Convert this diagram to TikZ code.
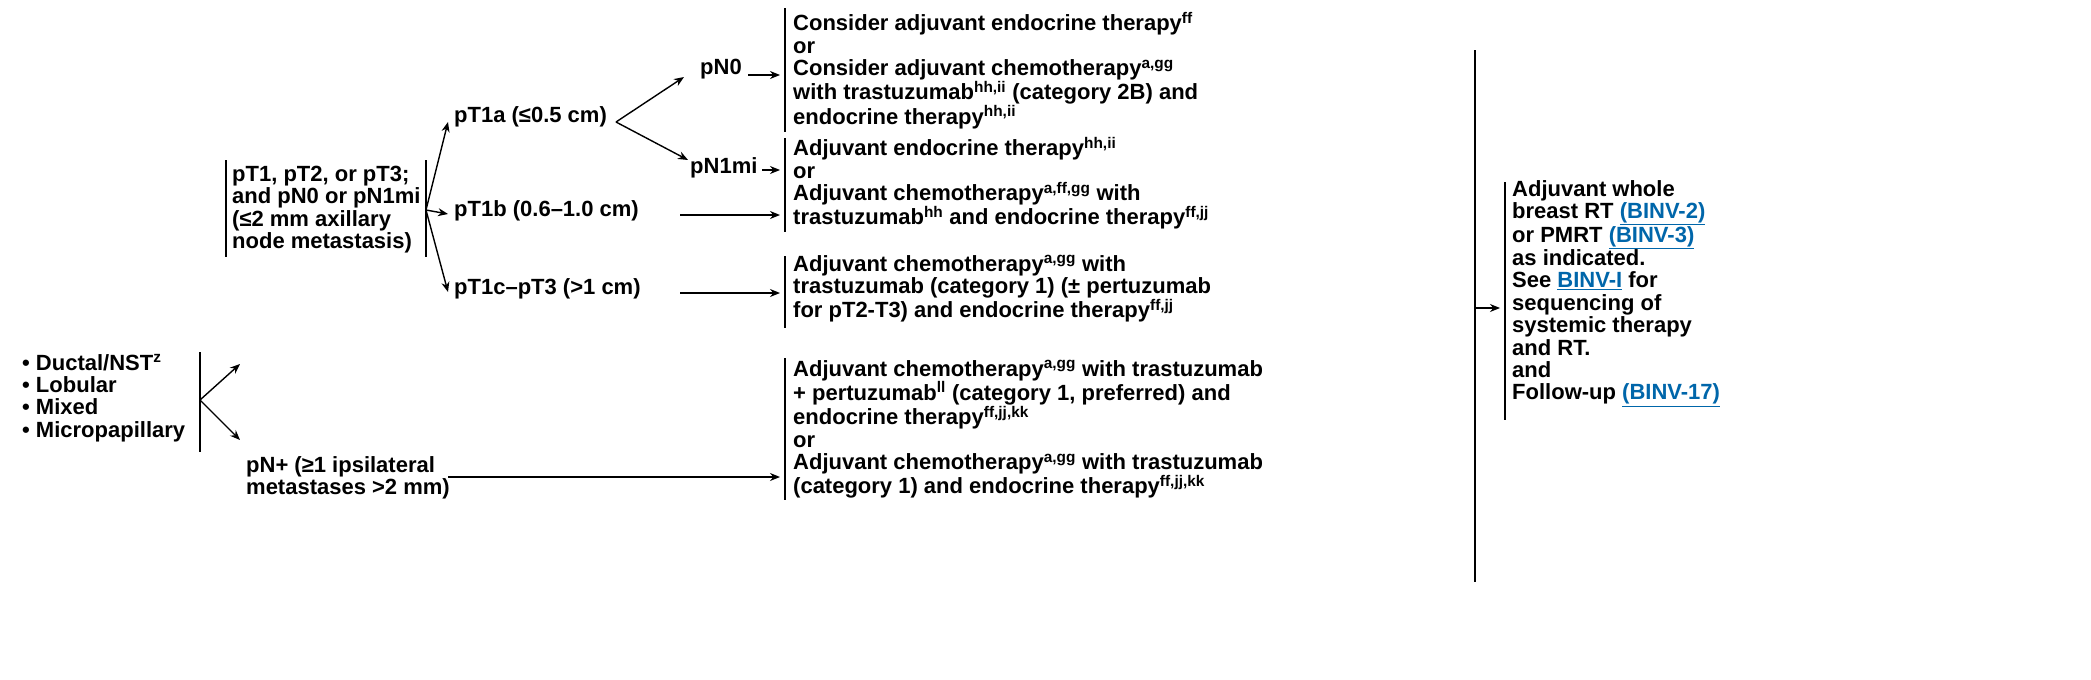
\documentclass[tikz,border=0pt]{standalone}
\usepackage{fontspec}
\setmainfont{Liberation Sans}
\usetikzlibrary{arrows.meta}
\definecolor{lnk}{RGB}{0,102,170}
\newcommand{\sps}[1]{\textsuperscript{#1}}
\newcommand{\lk}[1]{\textcolor{lnk}{\underline{#1}}}
\begin{document}
\begin{tikzpicture}[x=1pt,y=-1pt,
 txt/.style={anchor=north west,inner sep=0pt,align=left,font=\fontsize{22}{22.4}\selectfont\bfseries},
 bar/.style={line width=1.4pt},
 arr/.style={line width=1.4pt,-{Stealth[length=10pt,width=8pt]}}]
\useasboundingbox (0,0) rectangle (2091,680);
% left list
\node[txt] (types) at (22,354) {• Ductal/NST\sps{z}\\• Lobular\\• Mixed\\• Micropapillary};
\draw[bar] (200,352) coordinate (tb) -- (200,452);
\coordinate (split1) at (200,400);
\node[txt] (mid) at (232,166) {pT1, pT2, or pT3;\\and pN0 or pN1mi\\(≤2 mm axillary\\node metastasis)};
\draw[bar] (226,160) -- (226,257);
\draw[bar] (426,160) -- (426,257);
\coordinate (split2) at (426,210);
\node[txt] (pnp) at (246,456) {pN+ (≥1 ipsilateral\\metastases >2 mm)};
\coordinate (a1) at (240,364); \coordinate (a2) at (240,440);
\draw[arr] (split1) -- (a1);
\draw[arr] (split1) -- (a2);
% pT nodes
\node[txt] (t1a) at (454,106) {pT1a (≤0.5 cm)};
\node[txt] (t1b) at (454,200) {pT1b (0.6–1.0 cm)};
\node[txt] (t1c) at (454,278) {pT1c–pT3 (>1 cm)};
\draw[arr] (split2) -- (448,122);
\draw[arr] (split2) -- (448,214);
\draw[arr] (split2) -- (448,292);
\coordinate (split3) at (616,122);
\draw[arr] (split3) -- (684,77);
\draw[arr] (split3) -- (688,160);
\node[txt] (pn0) at (700,59) {pN0};
\node[txt] (pn1) at (690,157) {pN1mi};
% text blocks
\node[txt] (b1) at (793,12) {Consider adjuvant endocrine therapy\sps{ff}\\or\\Consider adjuvant chemotherapy\sps{a,gg}\\with trastuzumab\sps{hh,ii} (category 2B) and\\endocrine therapy\sps{hh,ii}};
\draw[bar] (785,8) -- (785,132);
\node[txt] (b2) at (793,137) {Adjuvant endocrine therapy\sps{hh,ii}\\or\\Adjuvant chemotherapy\sps{a,ff,gg} with\\trastuzumab\sps{hh} and endocrine therapy\sps{ff,jj}};
\draw[bar] (785,138) -- (785,232);
\node[txt] (b3) at (793,255) {Adjuvant chemotherapy\sps{a,gg} with\\trastuzumab (category 1) (± pertuzumab\\for pT2-T3) and endocrine therapy\sps{ff,jj}};
\draw[bar] (785,256) -- (785,328);
\node[txt] (b4) at (793,360) {Adjuvant chemotherapy\sps{a,gg} with trastuzumab\\+ pertuzumab\sps{ll} (category 1, preferred) and\\endocrine therapy\sps{ff,jj,kk}\\or\\Adjuvant chemotherapy\sps{a,gg} with trastuzumab\\(category 1) and endocrine therapy\sps{ff,jj,kk}};
\draw[bar] (785,358) -- (785,500);
\draw[arr] (748,75) -- (780,75);
\draw[arr] (762,170) -- (780,170);
\draw[arr] (680,215) -- (780,215);
\draw[arr] (680,293) -- (780,293);
\draw[arr] (448,477) -- (780,477);
% right
\draw[bar] (1475,50) -- (1475,582);
\draw[arr] (1475,308) -- (1500,308);
\draw[bar] (1505,182) -- (1505,420);
\node[txt] (fin) at (1512,180) {Adjuvant whole\\breast RT \lk{(BINV-2)}\\or PMRT \lk{(BINV-3)}\\as indicated.\\See \lk{BINV-I} for\\sequencing of\\systemic therapy\\and RT.\\and\\Follow-up \lk{(BINV-17)}};
\end{tikzpicture}
\end{document}
